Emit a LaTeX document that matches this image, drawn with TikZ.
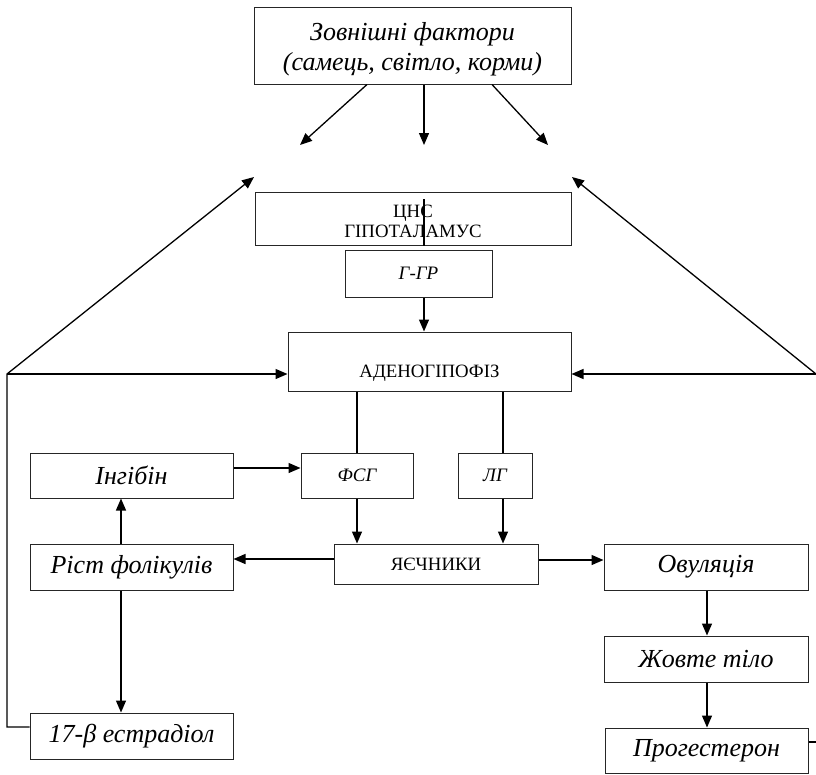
\documentclass[tikz,border=0pt]{standalone}
\usepackage{fontspec}
\setmainfont{Liberation Serif}
\usetikzlibrary{arrows.meta,calc}
\begin{document}
\begin{tikzpicture}[x=1pt,y=-1pt,
  box/.style={draw=black!85,line width=1pt,rectangle,inner sep=0pt,anchor=center},
  itbig/.style={font=\fontsize{26}{30}\selectfont\itshape},
  itmid/.style={font=\fontsize{19}{21}\selectfont\itshape},
  upmid/.style={font=\fontsize{18.8}{20}\selectfont},
  arr/.style={line width=1.3pt,-{Triangle[length=12pt,width=10pt]}},
  ln/.style={line width=1.3pt}]
\useasboundingbox (0,0) rectangle (816,774);
% boxes
\node[box,minimum width=317pt,minimum height=77pt,label={[itbig,align=center,yshift=-4pt]center:Зовнішні фактори\\(самець, світло, корми)}] (top) at (412.5,45.5) {};
\node[box,minimum width=316pt,minimum height=53pt,label={[upmid,align=center,yshift=-3pt]center:ЦНС\\ГІПОТАЛАМУС}] (cns) at (413,218.5) {};
\node[box,itmid,minimum width=147pt,minimum height=47pt] (ggr) at (418.5,273.5) {Г-ГР};
\node[box,minimum width=283pt,minimum height=59pt,label={[upmid,yshift=-12pt]center:АДЕНОГІПОФІЗ}] (adeno) at (429.5,361.5) {};
\node[box,itmid,minimum width=112pt,minimum height=45pt] (fsg) at (357,475.5) {ФСГ};
\node[box,itmid,minimum width=74pt,minimum height=45pt] (lg) at (495,475.5) {ЛГ};
\node[box,upmid,minimum width=204pt,minimum height=40pt] (ovary) at (436,564) {ЯЄЧНИКИ};
\node[box,itbig,minimum width=203pt,minimum height=45pt] (inh) at (131.5,475.5) {Інгібін};
\node[box,itbig,minimum width=203pt,minimum height=46pt] (rist) at (131.5,567) {Ріст фолікулів};
\node[box,itbig,minimum width=203pt,minimum height=46pt] (estr) at (131.5,736) {17-β естрадіол};
\node[box,itbig,minimum width=204pt,minimum height=46pt] (ovul) at (706,567) {Овуляція};
\node[box,itbig,minimum width=204pt,minimum height=46pt] (zhov) at (706,659) {Жовте тіло};
\node[box,itbig,minimum width=203pt,minimum height=45pt] (prog) at (706.5,750.5) {Прогестерон};
% helper coordinates
\coordinate (mx) at (424,0);
\coordinate (fx) at (357,0);
\coordinate (lx) at (503,0);
\coordinate (cx) at (121,0);
\coordinate (rx) at (707,0);
\coordinate (a1) at (300,145);
\coordinate (a2) at (424,145);
\coordinate (a3) at (548,145);
\coordinate (lv) at (7,374);
\coordinate (rv) at (816,374);
\coordinate (lt) at (254,177);
\coordinate (rt) at (572,177);
\coordinate (lb) at (7,727);
\coordinate (re) at (816,742);
\coordinate (yinh) at (0,468);
\coordinate (yov) at (0,559);
\coordinate (yovr) at (0,560);
\coordinate (yad) at (0,374);
\coordinate (yest) at (0,727);
\coordinate (ypr) at (0,742);
\coordinate (cnsin) at (424,199);
\coordinate (tl) at (367,0);
\coordinate (tr) at (492,0);
% top arrows
\draw[arr] (top.south -| tl) -- (a1);
\draw[arr] (top.south -| mx) -- (a2);
\draw[arr] (top.south -| tr) -- (a3);
\draw[ln] (cnsin) -- (cns.south -| mx);
% feedback loops
\draw[arr] (estr.west |- yest) -- (lb) -- (lv) -- (lt);
\draw[arr] (lv) -- (adeno.west |- yad);
\draw[arr] (rv) -- (adeno.east |- yad);
\draw[arr] (rv) -- (rt);
\draw[ln] (prog.east |- ypr) -- (re);
% main chain
\draw[arr] (ggr.south -| mx) -- (adeno.north -| mx);
\draw[ln] (adeno.south -| fx) -- (fsg.north -| fx);
\draw[ln] (adeno.south -| lx) -- (lg.north -| lx);
\draw[arr] (fsg.south -| fx) -- (ovary.north -| fx);
\draw[arr] (lg.south -| lx) -- (ovary.north -| lx);
\draw[arr] (inh.east |- yinh) -- (fsg.west |- yinh);
\draw[arr] (ovary.west |- yov) -- (rist.east |- yov);
\draw[arr] (ovary.east |- yovr) -- (ovul.west |- yovr);
\draw[arr] (rist.north -| cx) -- (inh.south -| cx);
\draw[arr] (rist.south -| cx) -- (estr.north -| cx);
\draw[arr] (ovul.south -| rx) -- (zhov.north -| rx);
\draw[arr] (zhov.south -| rx) -- (prog.north -| rx);
\end{tikzpicture}
\end{document}
